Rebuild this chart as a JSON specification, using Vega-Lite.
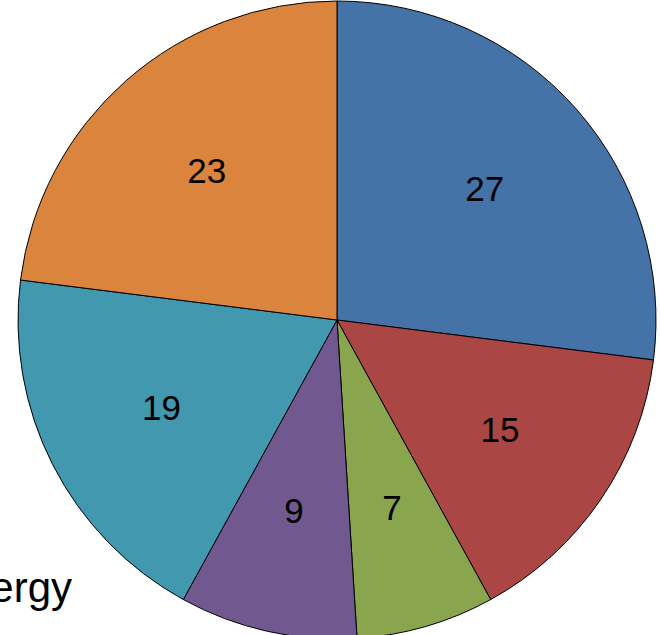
{
  "$schema": "https://vega.github.io/schema/vega-lite/v6.json",
  "autosize": {"type": "none"},
  "width": 648,
  "height": 630,
  "padding": {"left": 13, "top": 5, "right": 0, "bottom": 0},
  "background": "white",
  "title": {"text": "Energy", "orient": "bottom", "anchor": "start", "baseline": "alphabetic", "offset": 0, "dx": -74, "dy": -39, "fontSize": 42, "font": "Liberation Sans", "fontWeight": "normal", "color": "black"},
  "data": {"values": [
    {"cat": "A", "value": 27, "ord": 1},
    {"cat": "B", "value": 15, "ord": 2},
    {"cat": "C", "value": 7, "ord": 3},
    {"cat": "D", "value": 9, "ord": 4},
    {"cat": "E", "value": 19, "ord": 5},
    {"cat": "F", "value": 23, "ord": 6}
  ]},
  "encoding": {
    "theta": {"field": "value", "type": "quantitative", "stack": true},
    "order": {"field": "ord", "type": "quantitative"}
  },
  "layer": [
    {
      "mark": {"type": "arc", "outerRadius": 319, "stroke": "black", "strokeWidth": 1},
      "encoding": {
        "color": {"field": "cat", "type": "nominal", "legend": null,
          "scale": {"domain": ["A","B","C","D","E","F"], "range": ["#4572A7","#AA4643","#89A54E","#71588F","#4198AF","#DB843D"]}}
      }
    },
    {
      "mark": {"type": "text", "radius": 197, "fontSize": 35, "font": "Liberation Sans", "color": "black"},
      "encoding": {"text": {"field": "value", "type": "quantitative"}}
    }
  ]
}
